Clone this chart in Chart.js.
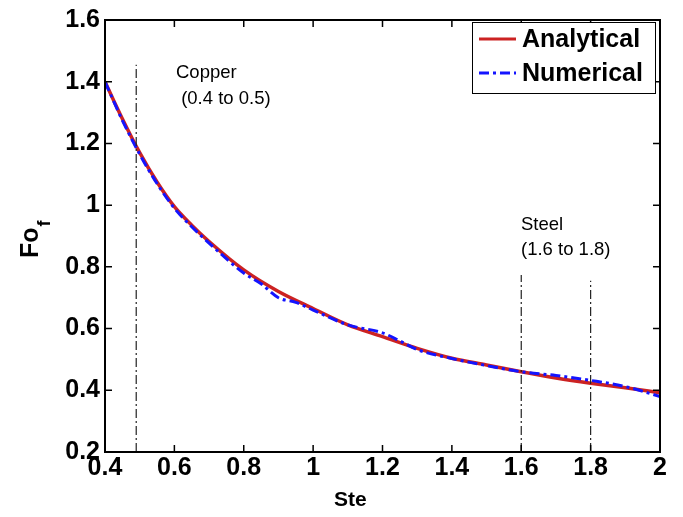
<!DOCTYPE html>
<html>
<head>
<meta charset="utf-8">
<title>Fo_f vs Ste</title>
<script src="https://cdn.jsdelivr.net/npm/chart.js@4.4.1/dist/chart.umd.min.js"></script>
<style>
  html, body { margin: 0; padding: 0; background: #fff; }
  #wrap { width: 683px; height: 517px; }
</style>
</head>
<body>
<div id="wrap"><canvas id="Chart1" width="683" height="517"></canvas></div>
<script>
// Stefan number samples and Fourier number values
var steAnalytical = [0.4, 0.45, 0.5, 0.55, 0.6, 0.65, 0.7, 0.8, 0.9, 1.0, 1.1, 1.2, 1.3, 1.4, 1.5, 1.6, 1.7, 1.8, 1.9, 2.0];
var foAnalytical  = [1.40, 1.28, 1.17, 1.075, 0.995, 0.935, 0.882, 0.79, 0.72, 0.665, 0.612, 0.574, 0.536, 0.504, 0.482, 0.46, 0.44, 0.423, 0.408, 0.392];

var steNumerical = [0.4, 0.45, 0.5, 0.55, 0.6, 0.65, 0.7, 0.8, 0.85, 0.9, 0.95, 1.0, 1.1, 1.2, 1.25, 1.3, 1.4, 1.5, 1.6, 1.7, 1.8, 1.9, 2.0];
var foNumerical  = [1.40, 1.275, 1.165, 1.07, 0.99, 0.93, 0.877, 0.78, 0.745, 0.70, 0.685, 0.66, 0.612, 0.586, 0.56, 0.532, 0.503, 0.48, 0.46, 0.448, 0.432, 0.412, 0.38];

// material ranges: x of the marker line and how high it goes
var markerSte = [0.49, 1.6, 1.8];
var markerTop = [1.455, 0.774, 0.755];

var xTicks = [0.4, 0.6, 0.8, 1, 1.2, 1.4, 1.6, 1.8, 2];
var yTicks = [0.2, 0.4, 0.6, 0.8, 1, 1.2, 1.4, 1.6];

var RED = 'rgb(204,34,34)';
var BLUE = 'rgb(20,20,255)';

function toPoints(xs, ys) {
  return xs.map(function(x, i) { return { x: x, y: ys[i] }; });
}

// 1.0 -> "1", 0.4 -> "0.4"
function tickText(v) {
  return String(Math.round(v * 10) / 10);
}

var datasets = [{
  label: 'Numerical',
  data: toPoints(steNumerical, foNumerical),
  borderColor: BLUE,
  borderWidth: 3,
  borderDash: [10, 4, 3, 4],
  pointRadius: 0,
  cubicInterpolationMode: 'monotone',
  order: 1
}, {
  label: 'Analytical',
  data: toPoints(steAnalytical, foAnalytical),
  borderColor: RED,
  borderWidth: 3.5,
  pointRadius: 0,
  cubicInterpolationMode: 'monotone',
  order: 2
}];

// dash-dot marker lines
markerSte.forEach(function(x, i) {
  datasets.push({
    label: 'marker' + i,
    data: [{ x: x, y: 0.2 }, { x: x, y: markerTop[i] }],
    borderColor: '#222',
    borderWidth: 1.2,
    borderDash: [9, 3, 2, 3],
    pointRadius: 0,
    order: 0
  });
});

// frame, inward ticks, axis titles, notes and the boxed legend
var decorations = {
  id: 'decorations',
  afterDraw: function(chart) {
    var ctx = chart.ctx;
    var a = chart.chartArea;
    var xs = chart.scales.x, ys = chart.scales.y;
    ctx.save();

    ctx.strokeStyle = '#000';
    ctx.lineWidth = 2;
    ctx.strokeRect(a.left, a.top, a.right - a.left, a.bottom - a.top);

    ctx.lineWidth = 1.5;
    ctx.beginPath();
    xTicks.forEach(function(v) {
      var px = xs.getPixelForValue(v);
      ctx.moveTo(px, a.bottom); ctx.lineTo(px, a.bottom - 7);
      ctx.moveTo(px, a.top); ctx.lineTo(px, a.top + 7);
    });
    yTicks.forEach(function(v) {
      var py = ys.getPixelForValue(v);
      ctx.moveTo(a.left, py); ctx.lineTo(a.left + 7, py);
      ctx.moveTo(a.right, py); ctx.lineTo(a.right - 7, py);
    });
    ctx.stroke();

    ctx.fillStyle = '#000';
    ctx.textBaseline = 'middle';
    ctx.textAlign = 'left';

    // x title
    ctx.font = 'bold 21px "Liberation Sans", Arial, sans-serif';
    ctx.fillText('Ste', 334, 500);

    // y title with subscript
    ctx.save();
    ctx.translate(38, 258);
    ctx.rotate(-Math.PI / 2);
    ctx.textBaseline = 'alphabetic';
    ctx.font = 'bold 25px "Liberation Sans", Arial, sans-serif';
    ctx.fillText('Fo', 0, 0);
    var w = ctx.measureText('Fo').width;
    ctx.font = 'bold 18px "Liberation Sans", Arial, sans-serif';
    ctx.fillText('f', w + 1, 12);
    ctx.restore();

    // material notes
    ctx.font = '18.5px "Liberation Sans", Arial, sans-serif';
    ctx.fillText('Copper', 176, 73);
    ctx.fillText(' (0.4 to 0.5)', 176, 99);
    ctx.fillText('Steel', 521, 225);
    ctx.fillText('(1.6 to 1.8)', 521, 250);

    // legend
    var lx = 472, ly = 22, lw = 183, lh = 71;
    ctx.fillStyle = '#fff';
    ctx.fillRect(lx, ly, lw, lh);
    ctx.strokeStyle = '#000';
    ctx.lineWidth = 1;
    ctx.strokeRect(lx + 0.5, ly + 0.5, lw, lh);

    var rows = [chart.data.datasets[1], chart.data.datasets[0]];
    rows.forEach(function(ds, i) {
      var cy = ly + 17 + i * 34;
      ctx.strokeStyle = ds.borderColor;
      ctx.lineWidth = 3;
      ctx.setLineDash(ds.borderDash || []);
      ctx.beginPath();
      ctx.moveTo(479, cy); ctx.lineTo(516, cy);
      ctx.stroke();
      ctx.setLineDash([]);
      ctx.fillStyle = '#000';
      ctx.font = 'bold 25px "Liberation Sans", Arial, sans-serif';
      ctx.fillText(ds.label, 522, cy + 1);
    });

    ctx.restore();
  }
};

var chart1 = new Chart('Chart1', {
  type: 'line',
  data: { datasets: datasets },
  options: {
    responsive: false,
    animation: false,
    layout: { padding: { top: 18, right: 23, left: 0, bottom: 0 } },
    plugins: {
      legend: { display: false },
      tooltip: { enabled: false }
    },
    scales: {
      x: {
        type: 'linear',
        min: 0.4,
        max: 2,
        afterBuildTicks: function(scale) {
          scale.ticks = xTicks.map(function(v) { return { value: v }; });
        },
        afterFit: function(scale) { scale.height = 65; },
        grid: { display: false, drawTicks: false },
        border: { display: false },
        ticks: {
          color: '#000',
          padding: 1,
          maxRotation: 0,
          autoSkip: false,
          callback: tickText,
          font: { family: '"Liberation Sans", Arial, sans-serif', size: 25, weight: 'bold' }
        }
      },
      y: {
        type: 'linear',
        min: 0.2,
        max: 1.6,
        afterBuildTicks: function(scale) {
          scale.ticks = yTicks.map(function(v) { return { value: v }; });
        },
        afterFit: function(scale) { scale.width = 105; },
        grid: { display: false, drawTicks: false },
        border: { display: false },
        ticks: {
          color: '#000',
          padding: 5,
          autoSkip: false,
          callback: tickText,
          font: { family: '"Liberation Sans", Arial, sans-serif', size: 25, weight: 'bold' }
        }
      }
    }
  },
  plugins: [decorations]
});
</script>
</body>
</html>
